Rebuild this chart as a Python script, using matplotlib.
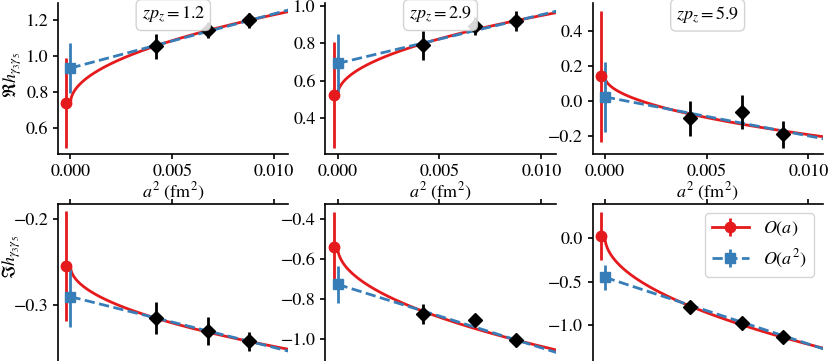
import numpy as np
import matplotlib
matplotlib.use("Agg")
import matplotlib.pyplot as plt
from matplotlib.ticker import MultipleLocator

plt.rcParams['font.family'] = ['STIXGeneral', 'Liberation Serif', 'DejaVu Serif']
plt.rcParams['mathtext.fontset'] = 'stix'
plt.rcParams['font.size'] = 13
plt.rcParams['axes.linewidth'] = 1.2
plt.rcParams['xtick.major.width'] = 1.2
plt.rcParams['ytick.major.width'] = 1.2

red = '#e41a1c'
blue = '#377eb8'

# lattice spacings squared (fm^2)
a2 = [0.00418, 0.00675, 0.00877]
zpz_labels = ['1.2', '2.9', '5.9']

# lattice data: real and imaginary parts, one list per zp_z
re_vals = [[1.056, 1.148, 1.200], [0.791, 0.893, 0.921], [-0.100, -0.062, -0.189]]
re_errs = [[0.070, 0.044, 0.040], [0.078, 0.050, 0.052], [0.100, 0.095, 0.077]]
im_vals = [[-0.315, -0.330, -0.342], [-0.873, -0.903, -1.003], [-0.789, -0.980, -1.142]]
im_errs = [[0.019, 0.016, 0.011], [0.050, 0.030, 0.020], [0.030, 0.030, 0.040]]

# O(a) fit: y = c0 + c1 * a
re_oa = [0.740, 0.524, 0.140]
re_oa_err = [0.250, 0.283, 0.372]
re_oa_slope = [4.92, 4.25, -3.32]
im_oa = [-0.2545, -0.537, 0.027]
im_oa_err = [0.064, 0.175, 0.275]
im_oa_slope = [-0.936, -4.98, -12.5]

# O(a^2) fit: y = b0 + b1 * a^2
re_oa2 = [0.935, 0.693, 0.023]
re_oa2_err = [0.140, 0.155, 0.200]
re_oa2_slope = [30.2, 26.0, -22.2]
im_oa2 = [-0.290, -0.725, -0.449]
im_oa2_err = [0.035, 0.094, 0.145]
im_oa2_slope = [-5.93, -31.7, -77.0]

ylims_re = [(0.457, 1.297), (0.209, 1.016), (-0.302, 0.557)]
ylims_im = [(-0.365, -0.182), (-1.108, -0.3235), (-1.415, 0.396)]
ysteps_re = [0.2, 0.2, 0.2]
ysteps_im = [0.1, 0.2, 0.5]

fig, axes = plt.subplots(2, 3, figsize=(8.3, 3.61), dpi=100,
                         gridspec_kw=dict(height_ratios=[151, 157]))
fig.subplots_adjust(left=0.0702, right=0.9912, top=0.9917, bottom=0.0,
                    wspace=0.161, hspace=0.3247)

xfit = np.linspace(0, 0.012, 400)

rows = [(re_vals, re_errs, re_oa, re_oa_err, re_oa_slope, re_oa2, re_oa2_err, re_oa2_slope, ylims_re, ysteps_re),
        (im_vals, im_errs, im_oa, im_oa_err, im_oa_slope, im_oa2, im_oa2_err, im_oa2_slope, ylims_im, ysteps_im)]

for r, (vals, errs, oa, oa_err, oa_sl, oa2, oa2_err, oa2_sl, ylims, steps) in enumerate(rows):
    for c in range(3):
        ax = axes[r, c]
        ax.plot(xfit, oa[c] + oa_sl[c] * np.sqrt(xfit), color=red, lw=2, zorder=2)
        ax.errorbar([-0.0002], [oa[c]], yerr=[oa_err[c]], fmt='o', ls='-', color=red,
                    ms=7.5, elinewidth=2, lw=2, zorder=3, label='$O(a)$')
        ax.plot(xfit, oa2[c] + oa2_sl[c] * xfit, color=blue, lw=2, ls='--', zorder=2)
        ax.errorbar([0.0], [oa2[c]], yerr=[oa2_err[c]], fmt='s', ls='--', color=blue,
                    ms=7.5, elinewidth=2, lw=2, zorder=3, label='$O(a^2)$')
        ax.errorbar(a2, vals[c], yerr=errs[c], fmt='D', color='black', ms=7,
                    elinewidth=2, zorder=4)
        ax.set_xlim(-0.0006, 0.0107)
        ax.set_ylim(*ylims[c])
        ax.yaxis.set_major_locator(MultipleLocator(steps[c]))
        ax.set_xticks([0.0, 0.005, 0.010])
        ax.spines['right'].set_visible(False)
        if r == 0:
            ax.spines['top'].set_visible(False)
            ax.set_xticklabels(['0.000', '0.005', '0.010'])
            ax.set_xlabel('$a^2$ (fm$^2$)', labelpad=1)
            ax.text(0.5, 0.92, '$zp_z = ' + zpz_labels[c] + '$', transform=ax.transAxes,
                    ha='center', va='center', zorder=5,
                    bbox=dict(boxstyle='round', facecolor='white', edgecolor='0.8', alpha=0.85))
        else:
            ax.spines['bottom'].set_visible(False)
            ax.xaxis.tick_top()
            ax.tick_params(axis='x', labeltop=False)

axes[0, 0].set_ylabel(r'$\Re h_{\gamma_3\gamma_5}$')
axes[0, 0].yaxis.set_label_coords(-0.15, 0.52)
axes[1, 0].set_ylabel(r'$\Im h_{\gamma_3\gamma_5}$')
axes[1, 0].yaxis.set_label_coords(-0.155, 0.66)
axes[1, 2].legend(loc='upper right', fontsize=13)

fig.savefig('out.png', dpi=100)
